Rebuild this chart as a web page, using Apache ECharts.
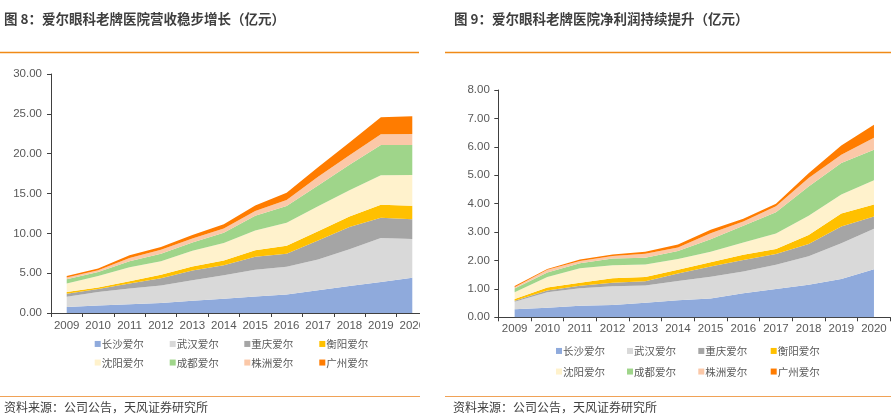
<!DOCTYPE html>
<html>
<head>
<meta charset="utf-8">
<script src="https://cdn.jsdelivr.net/npm/echarts@6/dist/echarts.min.js"></script>
<style>
html,body{margin:0;padding:0;background:#fff;}
#c{width:891px;height:420px;}
</style>
</head>
<body>
<div id="c"></div>
<script>
// ---- data ----
const years = ['2009','2010','2011','2012','2013','2014','2015','2016','2017','2018','2019','2020'];
const hospitalNames = ['长沙爱尔','武汉爱尔','重庆爱尔','衡阳爱尔','沈阳爱尔','成都爱尔','株洲爱尔','广州爱尔'];

// Figure 8: revenue (亿元)
const revChangsha  = [0.75,0.95,1.10,1.25,1.55,1.80,2.07,2.32,2.85,3.40,3.88,4.42];
const revWuhan     = [1.30,1.70,1.98,2.20,2.55,2.95,3.35,3.48,3.85,4.60,5.52,4.87];
const revChongqing = [0.37,0.35,0.62,0.90,1.25,1.25,1.63,1.65,2.40,2.80,2.57,2.49];
const revHengyang  = [0.21,0.20,0.30,0.45,0.50,0.60,0.82,1.00,1.15,1.30,1.61,1.67];
const revShenyang  = [1.07,1.45,1.75,1.70,1.95,2.18,2.49,2.89,3.15,3.30,3.72,3.87];
const revChengdu   = [0.53,0.50,0.75,0.95,1.05,1.30,1.84,2.08,2.60,3.20,3.78,3.78];
const revZhuzhou   = [0.22,0.23,0.40,0.50,0.50,0.52,0.61,0.75,1.10,1.20,1.35,1.37];
const revGuangzhou = [0.20,0.22,0.35,0.35,0.45,0.55,0.69,0.93,1.20,1.60,2.13,2.23];

// Figure 9: net profit (亿元)
const npChangsha  = [0.28,0.34,0.41,0.43,0.51,0.60,0.66,0.85,1.00,1.15,1.35,1.69];
const npWuhan     = [0.27,0.54,0.61,0.66,0.61,0.68,0.77,0.76,0.85,1.00,1.26,1.43];
const npChongqing = [0.03,0.06,0.09,0.13,0.15,0.26,0.36,0.41,0.38,0.43,0.59,0.43];
const npHengyang  = [0.06,0.11,0.11,0.15,0.15,0.13,0.15,0.18,0.17,0.32,0.45,0.42];
const npShenyang  = [0.24,0.37,0.51,0.46,0.44,0.38,0.37,0.43,0.55,0.67,0.67,0.85];
const npChengdu   = [0.13,0.16,0.17,0.24,0.24,0.28,0.44,0.59,0.75,1.03,1.11,1.08];
const npZhuzhou   = [0.05,0.09,0.08,0.09,0.14,0.13,0.21,0.15,0.21,0.30,0.29,0.42];
const npGuangzhou = [0.04,0.03,0.05,0.05,0.07,0.10,0.12,0.10,0.09,0.17,0.33,0.46];

const leftTitle = '图 8：爱尔眼科老牌医院营收稳步增长（亿元）';
const rightTitle = '图 9：爱尔眼科老牌医院净利润持续提升（亿元）';
const sourceText = '资料来源：公司公告，天风证券研究所';

// ---- styles ----
const colors = ['#8FAADC','#D9D9D9','#A5A5A5','#FFC000','#FFF2CC','#9FD58A','#FBC8A8','#FF7C00'];
const cjk = '"Noto Sans CJK SC", "Microsoft YaHei", sans-serif';
const num = '"Liberation Sans", Arial, sans-serif';
const axisColor = '#404040';
const labelColor = '#595959';

const revData = [revChangsha, revWuhan, revChongqing, revHengyang, revShenyang, revChengdu, revZhuzhou, revGuangzhou];
const npData = [npChangsha, npWuhan, npChongqing, npHengyang, npShenyang, npChengdu, npZhuzhou, npGuangzhou];

function makeX(gridIndex, margin) {
  return {
    type: 'category', gridIndex, data: years, boundaryGap: true,
    axisLine: {lineStyle: {color: axisColor, width: 1}},
    axisTick: {show: true, length: 4, lineStyle: {color: axisColor}},
    axisLabel: {color: labelColor, fontSize: 11.5, fontFamily: num, margin: margin, interval: 0}
  };
}
function makeY(gridIndex, max, interval, margin) {
  return {
    type: 'value', gridIndex, min: 0, max, interval,
    axisLine: {show: true, lineStyle: {color: axisColor, width: 1}},
    axisTick: {show: true, length: 4, lineStyle: {color: axisColor}},
    splitLine: {show: false},
    axisLabel: {color: labelColor, fontSize: 11.5, fontFamily: num, margin: margin,
      formatter: v => v.toFixed(2)}
  };
}

const series = [];
hospitalNames.forEach((n, i) => {
  series.push({
    name: n, type: 'line', xAxisIndex: 0, yAxisIndex: 0, stack: 'rev',
    data: revData[i], symbol: 'none', showSymbol: false,
    lineStyle: {width: 0, opacity: 0},
    areaStyle: {color: colors[i], opacity: 1},
    itemStyle: {color: colors[i]}, silent: true
  });
});
hospitalNames.forEach((n, i) => {
  series.push({
    name: n, type: 'line', xAxisIndex: 1, yAxisIndex: 1, stack: 'np',
    data: npData[i], symbol: 'none', showSymbol: false,
    lineStyle: {width: 0, opacity: 0},
    areaStyle: {color: colors[i], opacity: 1},
    itemStyle: {color: colors[i]}, silent: true
  });
});

// legends: one per item for exact placement
const legends = [];
function addLegends(xs, rows) {
  hospitalNames.forEach((n, i) => {
    const col = i % 4, row = Math.floor(i / 4);
    legends.push({
      data: [n], left: xs[col], top: rows[row] - 7, orient: 'horizontal',
      icon: 'rect', itemWidth: 6, itemHeight: 6, padding: 0,
      selectedMode: false,
      textStyle: {color: labelColor, fontSize: 10.5, fontFamily: cjk, padding: [0,0,0,-4]}
    });
  });
}
addLegends([94.7, 169.7, 244.3, 319.3], [345.7, 364.3]);
addLegends([556, 627, 698.3, 770.7], [352.7, 373.3]);

const graphics = [
  // clip left chart overflow
  {type: 'rect', shape: {x: 420, y: 58, width: 25, height: 290}, style: {fill: '#fff'}, z: 100},
  {type: 'text', x: 4, y: 19, z: 101, style: {text: leftTitle, fontSize: 13.5, fontWeight: 'bold', fontFamily: cjk, fill: '#3F3F3F', verticalAlign: 'middle'}},
  {type: 'text', x: 454, y: 19, z: 101, style: {text: rightTitle, fontSize: 13.5, fontWeight: 'bold', fontFamily: cjk, fill: '#3F3F3F', verticalAlign: 'middle'}},
  {type: 'line', z: 101, shape: {x1: 0, y1: 52.5, x2: 419, y2: 52.5}, style: {stroke: '#F08A17', lineWidth: 1.5}},
  {type: 'line', z: 101, shape: {x1: 445, y1: 52.5, x2: 891, y2: 52.5}, style: {stroke: '#F08A17', lineWidth: 1.5}},
  {type: 'line', z: 101, shape: {x1: 0, y1: 396.5, x2: 420, y2: 396.5}, style: {stroke: '#F0A257', lineWidth: 1}},
  {type: 'line', z: 101, shape: {x1: 445, y1: 396.5, x2: 891, y2: 396.5}, style: {stroke: '#F0A257', lineWidth: 1}},
  {type: 'text', x: 4, y: 407.5, z: 101, style: {text: sourceText, fontSize: 12, fontFamily: cjk, fill: '#404040', verticalAlign: 'middle'}},
  {type: 'text', x: 453, y: 407.5, z: 101, style: {text: sourceText, fontSize: 12, fontFamily: cjk, fill: '#404040', verticalAlign: 'middle'}}
];

const chart = echarts.init(document.getElementById('c'), null, {renderer: 'canvas'});
chart.setOption({
  animation: false,
  backgroundColor: '#fff',
  grid: [
    {left: 51, top: 74, width: 377, height: 239},
    {left: 498.3, top: 90, width: 392, height: 227.3}
  ],
  xAxis: [makeX(0, 6.5), makeX(1, 5.5)],
  yAxis: [makeY(0, 30, 5, 9), makeY(1, 8, 1, 8.5)],
  legend: legends,
  series,
  graphic: graphics
});
</script>
</body>
</html>
